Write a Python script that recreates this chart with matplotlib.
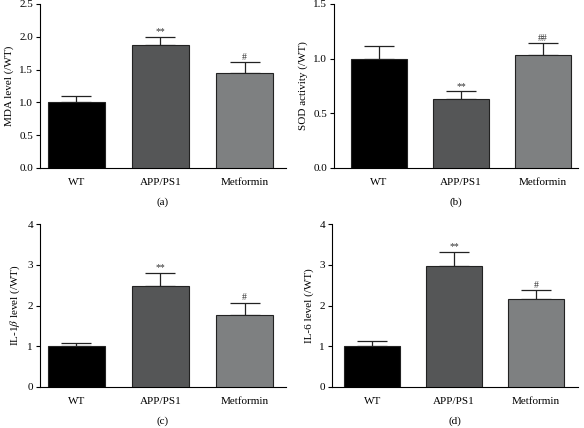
import matplotlib.pyplot as plt
import numpy as np

plt.rcParams['font.family'] = ['Liberation Serif', 'DejaVu Serif']
plt.rcParams['mathtext.fontset'] = 'stix'

groups = ['WT', 'APP/PS1', 'Metformin']
bar_colors = ['#000000', '#555657', '#7e8081']

mda = [1.0, 1.88, 1.45]
mda_err = [0.10, 0.12, 0.16]
mda_marks = ['', '**', '#']

sod = [1.0, 0.63, 1.03]
sod_err = [0.12, 0.07, 0.11]
sod_marks = ['', '**', '##']

il1b = [1.0, 2.48, 1.76]
il1b_err = [0.09, 0.31, 0.31]
il1b_marks = ['', '**', '#']

il6 = [1.0, 2.97, 2.17]
il6_err = [0.12, 0.34, 0.20]
il6_marks = ['', '**', '#']

panels = [
    # values, errors, marks, ylabel, ylim, ticks, tick fmt, rect, xlim, tag
    (mda, mda_err, mda_marks, 'MDA level (/WT)', 2.5, np.arange(0, 2.51, 0.5), '%.1f',
     [0.0685, 0.6075, 0.4212, 0.3832], (-0.43, 2.49), '(a)'),
    (sod, sod_err, sod_marks, 'SOD activity (/WT)', 1.5, np.arange(0, 1.51, 0.5), '%.1f',
     [0.572, 0.6075, 0.4178, 0.3832], (-0.55, 2.43), '(b)'),
    (il1b, il1b_err, il1b_marks, r'IL-1$\beta$ level (/WT)', 4, np.arange(0, 4.1, 1), '%d',
     [0.0685, 0.0958, 0.4212, 0.3808], (-0.43, 2.49), '(c)'),
    (il6, il6_err, il6_marks, 'IL-6 level (/WT)', 4, np.arange(0, 4.1, 1), '%d',
     [0.5685, 0.0958, 0.4212, 0.3808], (-0.49, 2.51), '(d)'),
]

fig = plt.figure(figsize=(5.84, 4.28), dpi=100)

for vals, errs, marks, ylabel, ymax, ticks, fmt, rect, xlim, tag in panels:
    ax = fig.add_axes(rect)
    x = np.arange(len(groups))
    ax.bar(x, vals, width=0.68, color=bar_colors, edgecolor='#222222', linewidth=0.8, zorder=3)
    ax.errorbar(x, vals, yerr=[np.zeros(len(vals)), errs], fmt='none', ecolor='#222222',
                elinewidth=0.9, capsize=11, capthick=0.9, zorder=2)
    for xi, v, e, m in zip(x, vals, errs, marks):
        if m:
            ax.text(xi, v + e + ymax * 0.005, m, ha='center', va='bottom', fontsize=7, color='#333333')
    ax.set_xlim(*xlim)
    ax.set_ylim(0, ymax)
    ax.set_yticks(ticks)
    ax.set_yticklabels([fmt % t for t in ticks], fontsize=8)
    ax.set_xticks(x)
    ax.set_xticklabels(groups, fontsize=8)
    ax.tick_params(axis='x', length=0, pad=7)
    ax.tick_params(axis='y', length=3, width=0.8, pad=2)
    ax.set_ylabel(ylabel, fontsize=8, labelpad=4)
    ax.spines['top'].set_visible(False)
    ax.spines['right'].set_visible(False)
    ax.spines['left'].set_linewidth(0.8)
    ax.spines['bottom'].set_linewidth(0.8)
    ax.text(0.5, -0.21, tag, transform=ax.transAxes, ha='center', va='center', fontsize=8)

fig.savefig('out.png', dpi=100)
